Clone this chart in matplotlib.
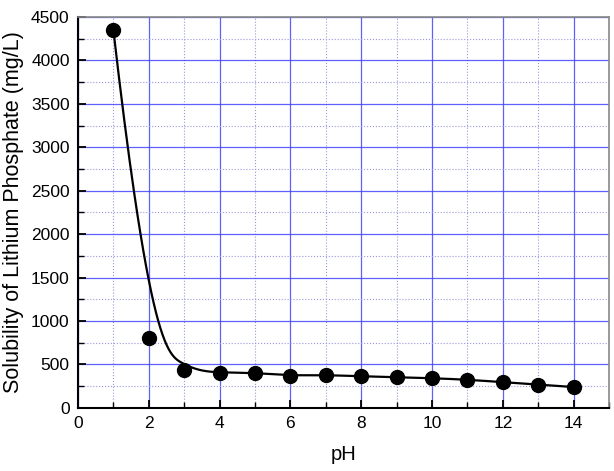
import numpy as np
import matplotlib
matplotlib.use("Agg")
import matplotlib.pyplot as plt
from matplotlib.ticker import MultipleLocator

plt.rcParams['font.family'] = ['Liberation Sans', 'DejaVu Sans']

ph = [1, 2, 3, 4, 5, 6, 7, 8, 9, 10, 11, 12, 13, 14]
solubility = [4350, 800, 437, 405, 405, 370, 380, 362, 353, 342, 325, 296, 268, 240]


def bspline(px, py, degree=3, num=600):
    """Clamped uniform B-spline using the data points as control points."""
    n = len(px)
    k = degree
    inner = np.arange(1, n - k)
    knots = np.concatenate([np.zeros(k + 1), inner, np.full(k + 1, n - k)]).astype(float)
    t = np.linspace(0, n - k, num)
    t[-1] -= 1e-9

    def basis(i, p, tt):
        if p == 0:
            return np.where((knots[i] <= tt) & (tt < knots[i + 1]), 1.0, 0.0)
        d1 = knots[i + p] - knots[i]
        d2 = knots[i + p + 1] - knots[i + 1]
        a = 0.0 if d1 == 0 else (tt - knots[i]) / d1 * basis(i, p - 1, tt)
        b = 0.0 if d2 == 0 else (knots[i + p + 1] - tt) / d2 * basis(i + 1, p - 1, tt)
        return a + b

    bx = np.zeros_like(t)
    by = np.zeros_like(t)
    for i in range(n):
        B = basis(i, k, t)
        bx += B * px[i]
        by += B * py[i]
    return bx, by


fig = plt.figure(figsize=(6.14, 4.71), dpi=100)
ax = fig.add_axes([0.127, 0.134, 0.865, 0.830])

cx, cy = bspline(np.array(ph, float), np.array(solubility, float))
ax.plot(cx, cy, color='black', lw=1.6, zorder=3)
ax.plot(ph, solubility, 'o', color='black', ms=10, zorder=4)

ax.set_xlim(0, 15)
ax.set_ylim(0, 4500)
ax.xaxis.set_major_locator(MultipleLocator(2))
ax.xaxis.set_minor_locator(MultipleLocator(1))
ax.yaxis.set_major_locator(MultipleLocator(500))
ax.yaxis.set_minor_locator(MultipleLocator(250))

ax.grid(which='major', color='#4444ff', lw=0.9, alpha=0.85, zorder=0)
ax.grid(which='minor', color='#9999dd', lw=0.8, ls=':', zorder=0)
ax.set_axisbelow(True)

ax.tick_params(which='both', direction='in', top=False, right=False, labelsize=12.5)
ax.tick_params(which='major', length=6, width=1.3, pad=6)
ax.tick_params(which='minor', length=4, width=1.0)

for s in ['left', 'bottom']:
    ax.spines[s].set_linewidth(1.5)
    ax.spines[s].set_color('black')
for s in ['top', 'right']:
    ax.spines[s].set_linewidth(1.2)
    ax.spines[s].set_color('#888888')

ax.set_xlabel('pH', fontsize=14.5, labelpad=10)
ax.set_ylabel('Solubility of Lithium Phosphate (mg/L)', fontsize=15.5, labelpad=5)

fig.savefig('out.png', dpi=100)
